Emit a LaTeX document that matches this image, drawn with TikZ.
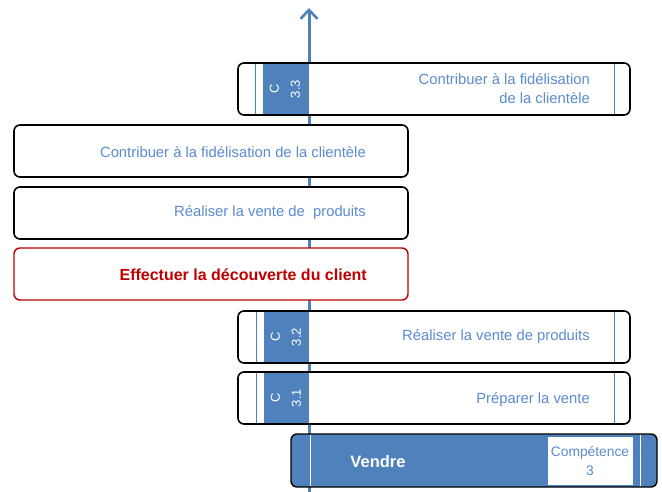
\documentclass[tikz,border=0pt]{standalone}
\usepackage{fontspec}
\setmainfont{Liberation Sans}
\usetikzlibrary{arrows.meta}
\definecolor{bandblue}{HTML}{4F81BD}
\definecolor{txtblue}{HTML}{5B8BD0}
\definecolor{darkred}{HTML}{C00000}
\tikzset{
  card/.style={draw=black, line width=1.6pt, rounded corners=6pt, fill=white},
  redcard/.style={draw=darkred, line width=1.4pt, rounded corners=6pt, fill=white},
  band/.style={fill=bandblue, draw=none},
  thinline/.style={draw=bandblue, line width=0.8pt},
  lbl/.style={text=txtblue, font=\fontsize{14.8}{19}\selectfont, align=right, anchor=east, inner sep=0pt},
  code/.style={text=white, font=\fontsize{13}{21}\selectfont, rotate=90, align=center, inner sep=0pt}
}
\begin{document}
\begin{tikzpicture}[x=1pt,y=-1pt]
\useasboundingbox (0,0) rectangle (662,492);
% axis
\coordinate (axb) at (309,492);
\coordinate (axt) at (309,8);
\draw[draw=bandblue, line width=3pt, -{Straight Barb[length=9pt,width=17pt,line width=2.6pt]}] (axb) -- (axt);

% C 3.3
\draw[card] (238,63) rectangle (630,115);
\fill[band] (263,64) rectangle (309,114);
\draw[thinline] (255,64) -- (255,114);
\draw[thinline] (614,64) -- (614,114);
\node[code] (c33) at (285,89) {C\\3.3};
\node[lbl] (t33) at (590,89) {Contribuer à la fidélisation\\de la clientèle};

% wide boxes
\draw[card] (14,125) rectangle (408,177);
\node[lbl] (tw1) at (366,152) {Contribuer à la fidélisation de la clientèle};
\draw[card] (14,187) rectangle (408,239);
\node[lbl] (tw2) at (366,213) {Réaliser la vente de~ produits};
\draw[redcard] (14,248) rectangle (408,300);
\node[lbl, text=darkred, font=\fontsize{16}{19}\selectfont\bfseries] (tw3) at (367,275) {Effectuer la découverte du client};

% C 3.2
\draw[card] (238,311) rectangle (630,363);
\fill[band] (264,312) rectangle (309,362);
\draw[thinline] (256,312) -- (256,362);
\draw[thinline] (614,312) -- (614,362);
\node[code] (c32) at (286,337) {C\\3.2};
\node[lbl] (t32) at (590,337) {Réaliser la vente de produits};

% C 3.1
\draw[card] (238,372) rectangle (630,424);
\fill[band] (264,373) rectangle (309,423);
\draw[thinline] (256,373) -- (256,423);
\draw[thinline] (614,373) -- (614,423);
\node[code] (c31) at (286,398) {C\\3.1};
\node[lbl] (t31) at (590,400) {Préparer la vente};

% Vendre
\draw[draw=black, line width=1.4pt, rounded corners=6pt, fill=bandblue] (291,434) rectangle (657,487);
\draw[white, line width=0.8pt] (310,435) -- (310,486);
\draw[white, line width=0.8pt] (640,435) -- (640,486);
\fill[white] (548,437) rectangle (633,485);
\node[text=white, font=\fontsize{16.5}{19}\selectfont\bfseries, inner sep=0pt] (vendre) at (378,462) {Vendre};
\node[text=txtblue, font=\fontsize{13.8}{19}\selectfont, align=center, inner sep=0pt] (comp) at (590,461) {Compétence\\3};
\end{tikzpicture}
\end{document}
